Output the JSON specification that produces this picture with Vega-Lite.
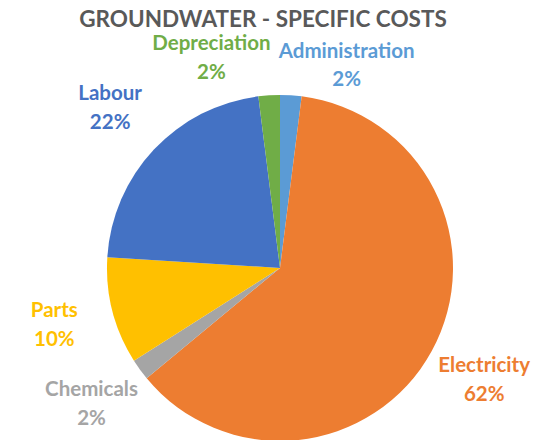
{
  "$schema": "https://vega.github.io/schema/vega-lite/v6.json",
  "width": 550,
  "height": 344,
  "autosize": {"type": "none"},
  "padding": {"left": 5, "top": 96, "right": 0, "bottom": 0},
  "background": "white",
  "view": {"stroke": null},
  "title": {
    "text": "GROUNDWATER - SPECIFIC COSTS",
    "frame": "group",
    "anchor": "middle",
    "offset": 3,
    "dx": -17,
    "font": "Lato",
    "fontSize": 22.5,
    "fontWeight": "bold",
    "color": "#595959"
  },
  "data": {
    "values": [
      {"category": "Administration", "value": 0.02, "rank": 1},
      {"category": "Electricity", "value": 0.62, "rank": 2},
      {"category": "Chemicals", "value": 0.02, "rank": 3},
      {"category": "Parts", "value": 0.10, "rank": 4},
      {"category": "Labour", "value": 0.22, "rank": 5},
      {"category": "Depreciation", "value": 0.02, "rank": 6}
    ]
  },
  "encoding": {
    "theta": {"field": "value", "type": "quantitative", "stack": true},
    "order": {"field": "rank", "type": "quantitative", "sort": "ascending"},
    "color": {
      "field": "category",
      "type": "nominal",
      "scale": {
        "domain": ["Administration", "Electricity", "Chemicals", "Parts", "Labour", "Depreciation"],
        "range": ["#5B9BD5", "#ED7D31", "#A5A5A5", "#FFC000", "#4472C4", "#70AD47"]
      },
      "legend": null
    }
  },
  "layer": [
    {"mark": {"type": "arc", "outerRadius": 173}},
    {
      "mark": {
        "type": "text",
        "radius": 233,
        "font": "Lato",
        "fontSize": 20.5,
        "fontWeight": "bold",
        "baseline": "middle",
        "dx": {"expr": "datum.category === 'Administration' ? 52 : datum.category === 'Depreciation' ? -54 : 0"},
        "dy": {"expr": "datum.category === 'Administration' ? 16.5 : datum.category === 'Depreciation' ? 9 : -14.5"}
      },
      "encoding": {"text": {"field": "category"}}
    },
    {
      "mark": {
        "type": "text",
        "radius": 233,
        "font": "Lato",
        "fontSize": 20.5,
        "fontWeight": "bold",
        "baseline": "middle",
        "dx": {"expr": "datum.category === 'Administration' ? 52 : datum.category === 'Depreciation' ? -54 : 0"},
        "dy": {"expr": "datum.category === 'Administration' ? 44.5 : datum.category === 'Depreciation' ? 37.5 : 14.5"}
      },
      "encoding": {"text": {"field": "value", "type": "quantitative", "format": ".0%"}}
    }
  ]
}
